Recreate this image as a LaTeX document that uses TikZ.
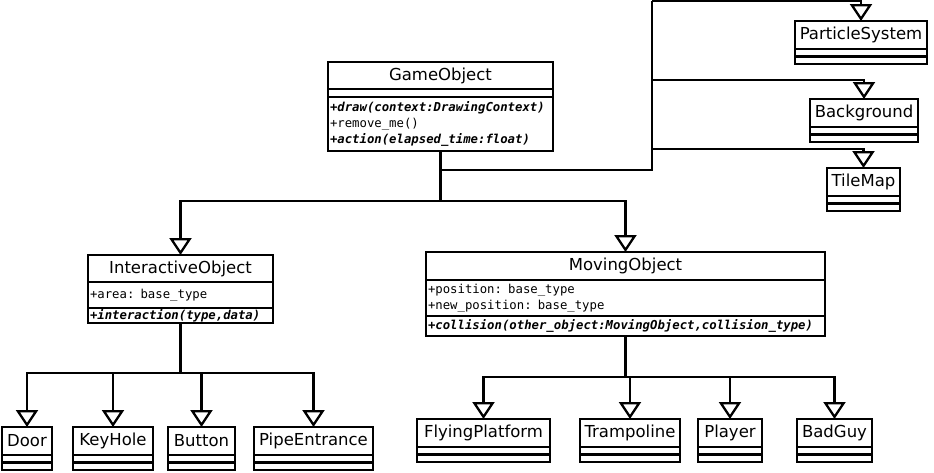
\documentclass[tikz,border=0pt]{standalone}
\usepackage{fontspec}
\setmainfont{DejaVu Sans}
\setmonofont{DejaVu Sans Mono}
\usetikzlibrary{arrows.meta,positioning}
\tikzset{
  classname/.style={draw,line width=2.3pt,outer sep=0pt,inner sep=0pt,anchor=north,
                    font=\fontsize{16.5}{19}\selectfont},
  classpart/.style={draw,line width=2.3pt,outer sep=0pt,inner xsep=2pt,inner ysep=0pt,
                    anchor=north,align=left,font=\ttfamily\fontsize{12.3}{16}\selectfont},
  wire/.style={line width=2.3pt},
  inherit/.style={wire,-{Triangle[open,length=17pt,width=22pt]}}
}

\begin{document}
\begin{tikzpicture}[x=1pt,y=-1pt]
  \path[fill=white,use as bounding box] (0,0) rectangle (934,472);

  % base class
  \node[classname,minimum width=225pt,minimum height=27pt] (go) at (440.5,62) {GameObject};
  \node[classpart,text width=221pt,minimum height=8pt] (go-a) at (go.south) {};
  \node[classpart,text width=221pt,minimum height=54pt] (go-m) at (go-a.south)
    {{\bfseries\itshape +draw(context:DrawingContext)}\\+remove\_me()\\{\bfseries\itshape +action(elapsed\_time:float)}};

  % second level
  \node[classname,minimum width=185pt,minimum height=27pt] (io) at (180.5,255) {InteractiveObject};
  \node[classpart,text width=181pt,minimum height=26pt] (io-a) at (io.south) {+area: base\_type};
  \node[classpart,text width=181pt,minimum height=15pt] (io-m) at (io-a.south)
    {\bfseries\itshape +interaction(type,data)};

  \node[classname,minimum width=399pt,minimum height=28pt] (mo) at (625.5,252) {MovingObject};
  \node[classpart,text width=395pt,minimum height=36pt] (mo-a) at (mo.south)
    {+position: base\_type\\+new\_position: base\_type};
  \node[classpart,text width=395pt,minimum height=20pt] (mo-m) at (mo-a.south)
    {\bfseries\itshape +collision(other\_object:MovingObject,collision\_type)};

  % leaf classes
  \foreach \id/\txt/\cx/\top/\w in {ps/ParticleSystem/861/21/132,bg/Background/864/99/108,
      tm/TileMap/863.5/168/73,door/Door/27/427/50,keyhole/KeyHole/113/427/80,
      button/Button/201.5/427/67,pipe/PipeEntrance/313.5/427/119,
      flying/FlyingPlatform/483.5/419/133,tramp/Trampoline/630/419/100,
      player/Player/730/419/64,badguy/BadGuy/834.5/419/75}{
    \node[classname,minimum width=\w pt,minimum height=28pt] (\id) at (\cx,\top) {\txt};
    \node[classpart,minimum width=\w pt,minimum height=7.5pt] (\id-a) at (\id.south) {};
    \node[classpart,minimum width=\w pt,minimum height=7.5pt] (\id-m) at (\id-a.south) {};
  }

  % connectors
  \coordinate (rail) at (652,170);
  \coordinate (railtop) at (652,1);
  \coordinate (railmid) at (652,80);
  \coordinate (railbot) at (652,149);
  \draw[inherit] (go-m.south) -- ++(0,50) -| (io.north);
  \draw[inherit] (go-m.south) -- ++(0,50) -| (mo.north);
  \draw[wire] (go-m.south) |- (rail) -- (railtop);
  \draw[inherit] (railtop) -| (ps.north);
  \draw[inherit] (railmid) -| (bg.north);
  \draw[inherit] (railbot) -| (tm.north);
  \foreach \id in {door,keyhole,button,pipe}
    \draw[inherit] (io-m.south) -- ++(0,50) -| (\id.north);
  \foreach \id in {flying,tramp,player,badguy}
    \draw[inherit] (mo-m.south) -- ++(0,41) -| (\id.north);
\end{tikzpicture}
\end{document}
